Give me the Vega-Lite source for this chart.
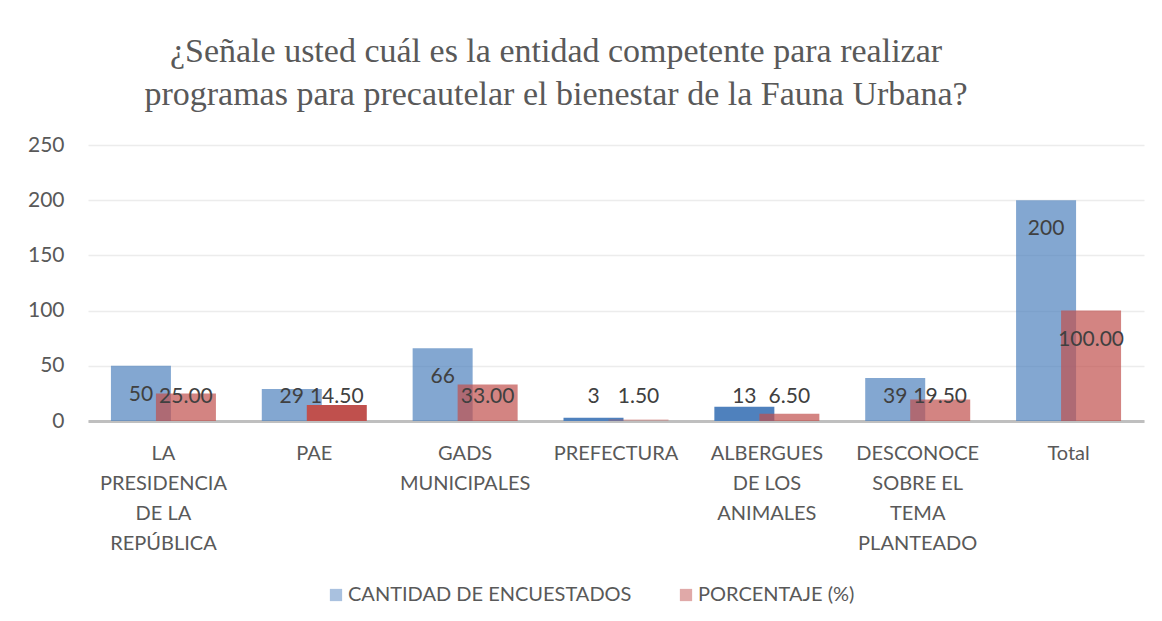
{
  "$schema": "https://vega.github.io/schema/vega-lite/v6.json",
  "width": 1056,
  "height": 287,
  "padding": {"left": 27, "top": 35, "right": 19, "bottom": 5},
  "background": "white",
  "title": {
    "text": ["¿Señale usted cuál es la entidad competente para realizar", "programas para precautelar el bienestar de la Fauna Urbana?"],
    "font": "Liberation Serif",
    "fontSize": 34,
    "fontWeight": "normal",
    "color": "#595959",
    "lineHeight": 43,
    "anchor": "middle",
    "dx": -60,
    "offset": 22
  },
  "data": {
    "values": [
      {"entidad": "LA PRESIDENCIA DE LA REPÚBLICA", "serie": "CANTIDAD DE ENCUESTADOS", "valor": 50},
      {"entidad": "PAE", "serie": "CANTIDAD DE ENCUESTADOS", "valor": 29},
      {"entidad": "GADS MUNICIPALES", "serie": "CANTIDAD DE ENCUESTADOS", "valor": 66},
      {"entidad": "PREFECTURA", "serie": "CANTIDAD DE ENCUESTADOS", "valor": 3},
      {"entidad": "ALBERGUES DE LOS ANIMALES", "serie": "CANTIDAD DE ENCUESTADOS", "valor": 13},
      {"entidad": "DESCONOCE SOBRE EL TEMA PLANTEADO", "serie": "CANTIDAD DE ENCUESTADOS", "valor": 39},
      {"entidad": "Total", "serie": "CANTIDAD DE ENCUESTADOS", "valor": 200},
      {"entidad": "LA PRESIDENCIA DE LA REPÚBLICA", "serie": "PORCENTAJE (%)", "valor": 25},
      {"entidad": "PAE", "serie": "PORCENTAJE (%)", "valor": 14.5},
      {"entidad": "GADS MUNICIPALES", "serie": "PORCENTAJE (%)", "valor": 33},
      {"entidad": "PREFECTURA", "serie": "PORCENTAJE (%)", "valor": 1.5},
      {"entidad": "ALBERGUES DE LOS ANIMALES", "serie": "PORCENTAJE (%)", "valor": 6.5},
      {"entidad": "DESCONOCE SOBRE EL TEMA PLANTEADO", "serie": "PORCENTAJE (%)", "valor": 19.5},
      {"entidad": "Total", "serie": "PORCENTAJE (%)", "valor": 100}
    ]
  },
  "encoding": {
    "x": {
      "field": "entidad",
      "type": "nominal",
      "sort": null,
      "title": null,
      "scale": {"paddingInner": 0, "paddingOuter": 0},
      "axis": {
        "labelAngle": 0,
        "labelFont": "Lato",
        "labelFontSize": 20,
        "labelColor": "#595959",
        "labelLineHeight": 30,
        "labelPadding": 32,
        "labelBaseline": "middle",
        "ticks": false,
        "domainColor": "#bfbfbf",
        "domainWidth": 3,
        "labelExpr": "({'LA PRESIDENCIA DE LA REPÚBLICA': ['LA', 'PRESIDENCIA', 'DE LA', 'REPÚBLICA'], 'GADS MUNICIPALES': ['GADS', 'MUNICIPALES'], 'ALBERGUES DE LOS ANIMALES': ['ALBERGUES', 'DE LOS', 'ANIMALES'], 'DESCONOCE SOBRE EL TEMA PLANTEADO': ['DESCONOCE', 'SOBRE EL', 'TEMA', 'PLANTEADO']})[datum.label] || datum.label"
      }
    }
  },
  "layer": [
    {
      "transform": [{"filter": "datum.serie === 'CANTIDAD DE ENCUESTADOS'"}],
      "mark": {"type": "bar", "width": 60, "xOffset": -22.5},
      "encoding": {
        "y": {
          "field": "valor",
          "type": "quantitative",
          "title": null,
          "scale": {"domain": [0, 250]},
          "axis": {
            "values": [0, 50, 100, 150, 200, 250],
            "labelFont": "Lato",
            "labelFontSize": 21,
            "labelColor": "#595959",
            "labelPadding": 24,
            "ticks": false,
            "domain": false,
            "gridColor": "#ececec",
            "gridWidth": 1.5
          }
        },
        "color": {
          "field": "serie",
          "type": "nominal",
          "title": null,
          "scale": {"domain": ["CANTIDAD DE ENCUESTADOS", "PORCENTAJE (%)"], "range": ["#4f81bd", "#c0504d"]},
          "legend": {
            "orient": "none",
            "legendX": 238,
            "legendY": 451,
            "direction": "horizontal",
            "symbolType": "square",
            "symbolSize": 150,
            "symbolStrokeWidth": 0,
            "symbolOpacity": 0.7,
            "labelFont": "Lato",
            "labelFontSize": 20,
            "labelColor": "#595959",
            "columnPadding": 44,
            "labelOffset": 2,
            "labelLimit": 400,
            "encode": {"symbols": {"update": {"opacity": {"value": 0.7}, "fillOpacity": {"value": 0.7}}}}
          }
        },
        "opacity": {
          "condition": {"test": "datum.entidad === 'ALBERGUES DE LOS ANIMALES' || datum.entidad === 'PREFECTURA'", "value": 1},
          "value": 0.7
        }
      }
    },
    {
      "transform": [{"filter": "datum.serie === 'PORCENTAJE (%)'"}],
      "mark": {"type": "bar", "width": 60, "xOffset": 22.5},
      "encoding": {
        "y": {"field": "valor", "type": "quantitative"},
        "color": {"field": "serie", "type": "nominal"},
        "opacity": {
          "condition": [
            {"test": "datum.entidad === 'PAE'", "value": 1},
            {"test": "datum.entidad === 'PREFECTURA'", "value": 0.3}
          ],
          "value": 0.7
        }
      }
    },
    {
      "transform": [{"filter": "datum.serie === 'CANTIDAD DE ENCUESTADOS' && datum.valor >= 48"}],
      "mark": {"type": "text", "xOffset": -22.5, "dy": 29, "baseline": "middle", "font": "Lato", "fontSize": 21, "color": "#404040"},
      "encoding": {
        "y": {"field": "valor", "type": "quantitative"},
        "text": {"field": "valor", "type": "quantitative", "format": "d"}
      }
    },
    {
      "transform": [{"filter": "datum.serie === 'CANTIDAD DE ENCUESTADOS' && datum.valor < 48"}],
      "mark": {"type": "text", "xOffset": -22.5, "dy": -24, "baseline": "middle", "font": "Lato", "fontSize": 21, "color": "#404040"},
      "encoding": {
        "y": {"datum": 0, "type": "quantitative"},
        "text": {"field": "valor", "type": "quantitative", "format": "d"}
      }
    },
    {
      "transform": [{"filter": "datum.serie === 'PORCENTAJE (%)' && datum.valor >= 48"}],
      "mark": {"type": "text", "xOffset": 22.5, "dy": 29, "baseline": "middle", "font": "Lato", "fontSize": 21, "color": "#404040"},
      "encoding": {
        "y": {"field": "valor", "type": "quantitative"},
        "text": {"field": "valor", "type": "quantitative", "format": ".2f"}
      }
    },
    {
      "transform": [{"filter": "datum.serie === 'PORCENTAJE (%)' && datum.valor < 48"}],
      "mark": {"type": "text", "xOffset": 22.5, "dy": -24, "baseline": "middle", "font": "Lato", "fontSize": 21, "color": "#404040"},
      "encoding": {
        "y": {"datum": 0, "type": "quantitative"},
        "text": {"field": "valor", "type": "quantitative", "format": ".2f"}
      }
    }
  ],
  "config": {
    "view": {"stroke": null}
  }
}
